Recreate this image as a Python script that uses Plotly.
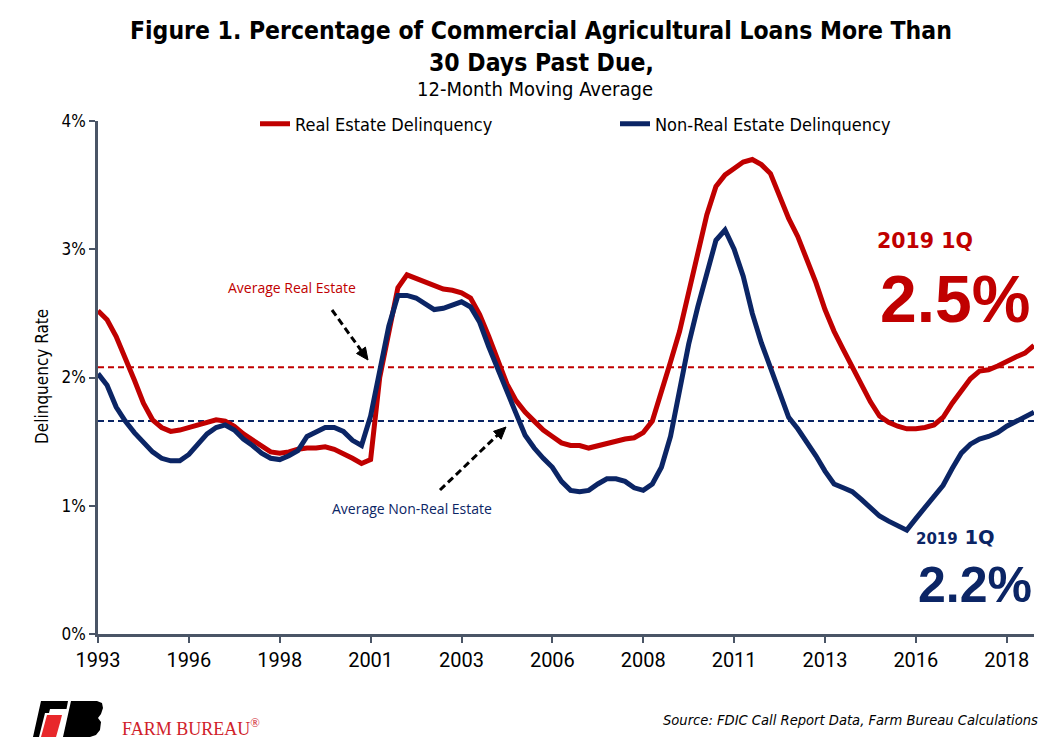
import plotly.graph_objects as go

# Quarterly 12-month moving average, 1993Q1 .. 2018Q4
quarters = [f"{y}Q{q}" for y in range(1993, 2019) for q in range(1, 5)]

real_estate = [
    2.52, 2.45, 2.32, 2.16, 1.98, 1.80, 1.67, 1.61, 1.58, 1.59,
    1.61, 1.64, 1.66, 1.67, 1.66, 1.62, 1.56, 1.51, 1.46, 1.42,
    1.41, 1.42, 1.44, 1.45, 1.45, 1.46, 1.44, 1.41, 1.37, 1.33,
    1.36, 2.00, 2.35, 2.70, 2.80, 2.77, 2.74, 2.71, 2.69, 2.68,
    2.66, 2.62, 2.49, 2.32, 2.14, 1.95, 1.82, 1.73, 1.66, 1.59,
    1.54, 1.49, 1.47, 1.47, 1.45, 1.47, 1.49, 1.50, 1.52, 1.53,
    1.57, 1.66, 1.88, 2.12, 2.36, 2.66, 2.96, 3.27, 3.49, 3.58,
    3.63, 3.68, 3.70, 3.66, 3.59, 3.42, 3.24, 3.10, 2.93, 2.74,
    2.53, 2.36, 2.22, 2.08, 1.95, 1.81, 1.70, 1.65, 1.62, 1.60,
    1.60, 1.61, 1.63, 1.69, 1.80, 1.90, 1.99, 2.05, 2.06, 2.09,
    2.13, 2.16, 2.19, 2.25,
]

non_real_estate = [
    2.03, 1.94, 1.77, 1.66, 1.57, 1.49, 1.42, 1.37, 1.35, 1.35,
    1.40, 1.48, 1.56, 1.61, 1.63, 1.59, 1.52, 1.47, 1.41, 1.37,
    1.36, 1.39, 1.43, 1.54, 1.58, 1.61, 1.61, 1.58, 1.51, 1.47,
    1.70, 2.05, 2.40, 2.64, 2.64, 2.62, 2.57, 2.53, 2.54, 2.57,
    2.59, 2.55, 2.43, 2.24, 2.06, 1.88, 1.72, 1.55, 1.45, 1.37,
    1.30, 1.19, 1.12, 1.11, 1.12, 1.17, 1.21, 1.21, 1.19, 1.14,
    1.12, 1.17, 1.30, 1.54, 1.88, 2.26, 2.55, 2.81, 3.07, 3.15,
    3.00, 2.79, 2.50, 2.27, 2.08, 1.88, 1.69, 1.60, 1.50, 1.39,
    1.27, 1.17, 1.14, 1.11, 1.05, 0.98, 0.92, 0.88, 0.84, 0.81,
    0.90, 0.99, 1.07, 1.16, 1.29, 1.41, 1.48, 1.52, 1.54, 1.57,
    1.62, 1.66, 1.69, 1.73,
]

avg_real_estate = 2.08
avg_non_real_estate = 1.66

tick_quarters = quarters[::10]
tick_labels = ["1993", "1996", "1998", "2001", "2003", "2006",
               "2008", "2011", "2013", "2016", "2018"]
y_ticks = [0, 1, 2, 3, 4]
y_labels = ["0%", "1%", "2%", "3%", "4%"]

RED = "#C00000"
NAVY = "#0B2565"
AXIS = "#4A5566"
COND = "DejaVu Sans Condensed, Liberation Sans Narrow, sans-serif"

# page has an 8px body margin, so the figure is 8px smaller and everything
# below is given in screen pixels of the reference
OFF = 8
W, H = 1062 - OFF, 741 - OFF
L, R, T, B = 90, 28, 113, 107
PW, PH = W - L - R, H - T - B


def px(x, y):
    return (x - OFF - L) / PW, (H - B - (y - OFF)) / PH


def path_from(points):
    s = ""
    for i, (x, y) in enumerate(points):
        u, v = px(x, y)
        s += ("M" if i == 0 else "L") + f"{u:.5f},{v:.5f} "
    return s + "Z"


def arrow(x0, y0, x1, y1, color="black"):
    # dashed shaft + solid head (plotly arrows can't be dashed)
    dx, dy = x1 - x0, y1 - y0
    n = (dx * dx + dy * dy) ** 0.5
    ux, uy = dx / n, dy / n
    hl, hw = 12, 5.5
    bx, by = x1 - hl * ux, y1 - hl * uy
    u0, v0 = px(x0, y0)
    u1, v1 = px(bx, by)
    shaft = dict(type="line", xref="paper", yref="paper", x0=u0, y0=v0, x1=u1, y1=v1,
                 line=dict(color=color, width=3, dash="7px,4px"))
    head = dict(type="path", xref="paper", yref="paper",
                path=path_from([(x1, y1), (bx - hw * uy, by + hw * ux), (bx + hw * uy, by - hw * ux)]),
                fillcolor=color, line=dict(color=color, width=1))
    return [shaft, head]


fig = go.Figure()
fig.add_trace(go.Scatter(x=quarters, y=real_estate, mode="lines",
                         name="Real Estate Delinquency",
                         line=dict(color=RED, width=5)))
fig.add_trace(go.Scatter(x=quarters, y=non_real_estate, mode="lines",
                         name="Non-Real Estate Delinquency",
                         line=dict(color=NAVY, width=5)))

shapes = [
    dict(type="line", xref="x", yref="y", x0=0, x1=len(quarters) - 1,
         y0=avg_real_estate, y1=avg_real_estate, layer="below",
         line=dict(color=RED, width=2, dash="6px,4px")),
    dict(type="line", xref="x", yref="y", x0=0, x1=len(quarters) - 1,
         y0=avg_non_real_estate, y1=avg_non_real_estate, layer="below",
         line=dict(color=NAVY, width=2, dash="6px,4px")),
]
shapes += arrow(332, 310, 368, 360)
shapes += arrow(440, 490, 506, 427)

# rough Farm Bureau logo
shapes += [
    dict(type="path", xref="paper", yref="paper", fillcolor="black", line=dict(width=0),
         path=path_from([(41, 701), (68, 701), (66.5, 709), (50, 709), (49, 713),
                         (45, 713), (39, 737), (33, 737)])),
    dict(type="path", xref="paper", yref="paper", fillcolor="#E8282B", line=dict(width=0),
         path=path_from([(47, 715), (62, 715), (60.5, 721), (56, 737), (41, 737)])),
    dict(type="path", xref="paper", yref="paper", fillcolor="black", line=dict(width=0),
         path=path_from([(71, 701), (97, 701), (102, 703), (103, 708), (101, 714),
                         (98, 718), (101, 722), (100, 730), (96, 735), (90, 737), (63, 737)])),
]

ann = []


def text(x, y, s, size, color="black", family=COND, xanchor="center", **kw):
    u, v = px(x, y)
    ann.append(dict(x=u, y=v, xref="paper", yref="paper", text=s, showarrow=False,
                    xanchor=xanchor, yanchor="middle",
                    font=dict(size=size, color=color, family=family), **kw))


text(541, 31, "<b>Figure 1. Percentage of Commercial Agricultural Loans More Than</b>", 24.5)
text(541, 62, "<b>30 Days Past Due,</b>", 24.5)
text(535, 89, "12-Month Moving Average", 20)
text(42, 377, "Delinquency Rate", 17, textangle=-90)
text(292, 287, "Average Real Estate", 14, color=RED, family="Open Sans, sans-serif")
text(412, 508, "Average Non-Real Estate", 14, color=NAVY, family="Open Sans, sans-serif")
text(925, 241, "<b>2019 1Q</b>", 20.5, color=RED, family="DejaVu Sans, sans-serif")
text(955, 299, "<b>2.5%</b>", 66, color=RED, family="Liberation Sans, Arial, sans-serif")
text(955, 537, "<b><span style='font-size:15px'>2019</span> 1Q</b>", 19.5, color=NAVY,
     family="DejaVu Sans, sans-serif")
text(975, 585, "<b>2.2%</b>", 50, color=NAVY, family="Liberation Sans, Arial, sans-serif")
text(120, 727, "FARM BUREAU<sup>®</sup>", 18, color="#D0212A",
     family="Liberation Serif, serif", xanchor="left")
text(1040, 720, "<i>Source: FDIC Call Report Data, Farm Bureau Calculations</i>", 14.6,
     xanchor="right")

fig.update_layout(
    width=W, height=H,
    margin=dict(l=L, r=R, t=T, b=B),
    paper_bgcolor="white", plot_bgcolor="white",
    shapes=shapes, annotations=ann,
    showlegend=True,
    legend=dict(orientation="h", x=px(255, 0)[0], xanchor="left",
                y=px(0, 124)[1], yanchor="middle",
                font=dict(size=18, family=COND, color="black"),
                entrywidth=315, entrywidthmode="pixels",
                bgcolor="rgba(0,0,0,0)"),
    xaxis=dict(type="category", range=[0, len(quarters) - 1],
               tickmode="array", tickvals=tick_quarters, ticktext=tick_labels,
               showline=True, linecolor=AXIS, linewidth=2.5,
               ticks="outside", ticklen=6, tickwidth=2, tickcolor=AXIS,
               showgrid=False, zeroline=False,
               tickfont=dict(size=20, family="Roboto, sans-serif", color="black")),
    yaxis=dict(range=[0, 4], tickmode="array", tickvals=y_ticks, ticktext=y_labels,
               showline=True, linecolor=AXIS, linewidth=2.5,
               ticks="outside", ticklen=6, tickwidth=2, tickcolor=AXIS,
               showgrid=False, zeroline=False,
               tickfont=dict(size=17, family=COND, color="black")),
)

fig.write_html("out.html")
